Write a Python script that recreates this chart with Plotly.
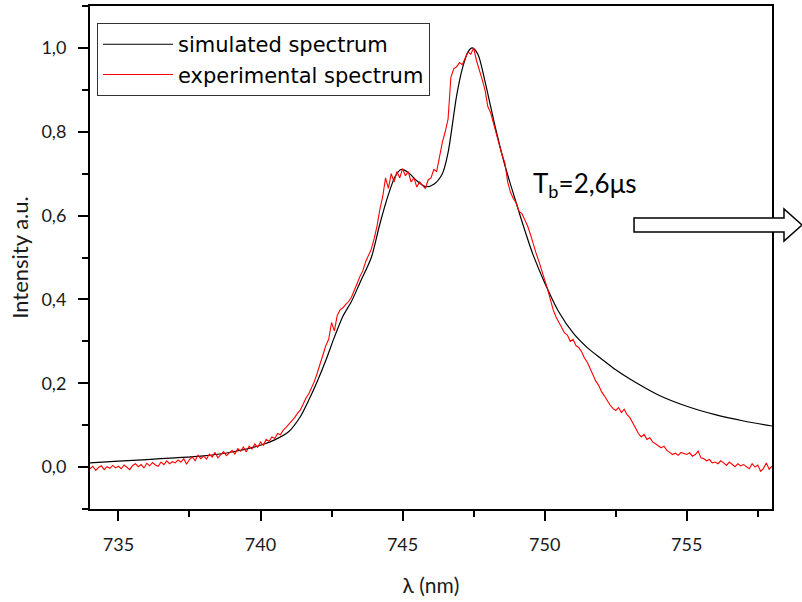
import numpy as np
import plotly.graph_objects as go

# simulated spectrum (smooth curve), wavelength in nm
sim_x = [734.0, 735.0, 736.0, 737.0, 737.9, 739.0, 740.0, 740.5, 741.0, 741.4, 741.7,
         742.0, 742.3, 742.6, 742.9, 743.2, 743.5, 743.9, 744.2, 744.5, 744.75, 744.95,
         745.2, 745.5, 745.8, 746.1, 746.4, 746.6, 746.9, 747.1, 747.3, 747.45, 747.65,
         747.9, 748.1, 748.3, 748.6, 749.0, 749.3, 749.6, 750.0, 750.5, 751.0, 751.5,
         752.0, 752.5, 753.0, 754.0, 755.0, 756.0, 757.0, 758.0]
sim_y = [0.010, 0.014, 0.018, 0.022, 0.026, 0.036, 0.052, 0.065, 0.085, 0.120, 0.160,
         0.205, 0.255, 0.310, 0.360, 0.395, 0.440, 0.500, 0.580, 0.650, 0.695, 0.710,
         0.703, 0.683, 0.669, 0.675, 0.700, 0.750, 0.885, 0.950, 0.990, 1.000, 0.985,
         0.920, 0.860, 0.800, 0.720, 0.630, 0.565, 0.505, 0.440, 0.370, 0.320, 0.285,
         0.258, 0.232, 0.210, 0.172, 0.145, 0.125, 0.110, 0.098]

# experimental spectrum, sampled every 0.1 nm from 734.0 nm
exp_start = 734.0
exp_step = 0.1
exp_y = [
    -0.004, 0.002, -0.008, -0.001, 0.003, -0.006, 0.001, -0.003, 0.004, -0.002,
    0.002, -0.004, 0.005, 0.000, -0.006, 0.004, 0.008, 0.001, 0.006, -0.002,
    0.009, 0.003, 0.011, 0.005, 0.002, 0.012, 0.006, 0.015, 0.008, 0.013,
    0.010, 0.017, 0.012, 0.020, 0.007, 0.018, 0.024, 0.015, 0.028, 0.020,
    0.026, 0.019, 0.031, 0.024, 0.035, 0.022, 0.030, 0.037, 0.027, 0.033,
    0.040, 0.031, 0.044, 0.038, 0.048, 0.036, 0.050, 0.043, 0.055, 0.047,
    0.060, 0.052, 0.066, 0.061, 0.072, 0.068, 0.080, 0.077, 0.088, 0.095,
    0.102, 0.110, 0.118, 0.128, 0.136, 0.150, 0.165, 0.175, 0.190, 0.205,
    0.225, 0.248, 0.265, 0.290, 0.305, 0.345, 0.325, 0.362, 0.375, 0.380,
    0.388, 0.395, 0.405, 0.420, 0.438, 0.455, 0.468, 0.490, 0.505, 0.520,
    0.545, 0.575, 0.615, 0.645, 0.690, 0.665, 0.700, 0.680, 0.705, 0.690,
    0.712, 0.695, 0.705, 0.680, 0.690, 0.668, 0.680, 0.672, 0.665, 0.685,
    0.690, 0.710, 0.705, 0.740, 0.775, 0.800, 0.830, 0.930, 0.950, 0.955,
    0.965, 0.960, 0.975, 0.990, 0.985, 1.000, 0.970, 0.950, 0.925, 0.900,
    0.860, 0.845, 0.820, 0.790, 0.770, 0.745, 0.725, 0.680, 0.655, 0.640,
    0.630, 0.610, 0.605, 0.590, 0.575, 0.555, 0.530, 0.510, 0.490, 0.470,
    0.450, 0.425, 0.400, 0.375, 0.358, 0.345, 0.330, 0.320, 0.315, 0.300,
    0.305, 0.290, 0.285, 0.275, 0.260, 0.250, 0.235, 0.220, 0.205, 0.195,
    0.180, 0.170, 0.158, 0.148, 0.140, 0.135, 0.142, 0.130, 0.138, 0.125,
    0.118, 0.105, 0.090, 0.080, 0.072, 0.078, 0.066, 0.070, 0.060, 0.055,
    0.052, 0.046, 0.050, 0.040, 0.035, 0.030, 0.033, 0.028, 0.035, 0.032,
    0.030, 0.034, 0.026, 0.030, 0.038, 0.022, 0.020, 0.015, 0.018, 0.010,
    0.012, 0.008, 0.015, 0.010, 0.004, 0.012, 0.006, 0.001, 0.008, 0.003,
    0.006, 0.002, -0.004, 0.008, 0.000, 0.005, -0.010, -0.003, 0.010, -0.005,
    0.002]
exp_x = [round(exp_start + i * exp_step, 2) for i in range(len(exp_y))]

FONT = "Lato"
TXT = "#1a1a1a"

fig = go.Figure()
fig.add_trace(go.Scatter(x=sim_x, y=sim_y, mode="lines", name="simulated spectrum",
                         line=dict(color="black", width=1.2, shape="spline", smoothing=0.8)))
fig.add_trace(go.Scatter(x=exp_x, y=exp_y, mode="lines", name="experimental spectrum",
                         line=dict(color="#ff0000", width=1.1)))

axis_common = dict(showline=True, linecolor="black", linewidth=2, mirror=True,
                   ticks="outside", ticklen=10, tickwidth=1.5, tickcolor="black",
                   showgrid=False, zeroline=False, automargin=False,
                   tickfont=dict(family=FONT, size=18, color=TXT))

fig.update_xaxes(range=[734, 758], tick0=735, dtick=5, ticklabelstandoff=8,
                 minor=dict(ticks="outside", ticklen=6, dtick=2.5, tick0=735, tickcolor="black", tickwidth=1.5),
                 title=dict(text="λ (nm)", font=dict(family=FONT, size=21, color=TXT), standoff=25),
                 **axis_common)
fig.update_yaxes(range=[-0.1, 1.1], tick0=0, dtick=0.2, tickformat=".1f", ticklabelstandoff=8,
                 minor=dict(ticks="outside", ticklen=6, dtick=0.1, tick0=0, tickcolor="black", tickwidth=1.5),
                 title=dict(text="Intensity a.u.", font=dict(family=FONT, size=22, color=TXT), standoff=7),
                 **axis_common)

fig.add_shape(type="path", xref="paper", yref="paper",
              path="M 0.7977 0.5785 L 1.0176 0.5785 L 1.0176 0.5964 L 1.0440 0.5646 "
                   "L 1.0176 0.5328 L 1.0176 0.5507 L 0.7977 0.5507 Z",
              fillcolor="white", line=dict(color="black", width=1.5))

fig.add_annotation(xref="paper", yref="paper", x=0.646, y=0.645, xanchor="left", yanchor="middle",
                   text="T<sub>b</sub>=2,6μs", showarrow=False,
                   font=dict(family=FONT, size=26, color="black"))

fig.update_layout(
    width=802, height=602,
    margin=dict(l=90, r=30, t=6, b=93),
    paper_bgcolor="white", plot_bgcolor="white",
    separators=",.",
    showlegend=True,
    legend=dict(x=0.0103, y=0.966, xanchor="left", yanchor="top",
                bordercolor="#333", borderwidth=1, bgcolor="white",
                font=dict(family="DejaVu Sans", size=21, color="black"),
                tracegroupgap=0, itemwidth=70),
)

fig.write_html("out.html", config={"displayModeBar": False},
               post_script="document.body.style.margin='0';document.body.style.overflow='hidden';")
